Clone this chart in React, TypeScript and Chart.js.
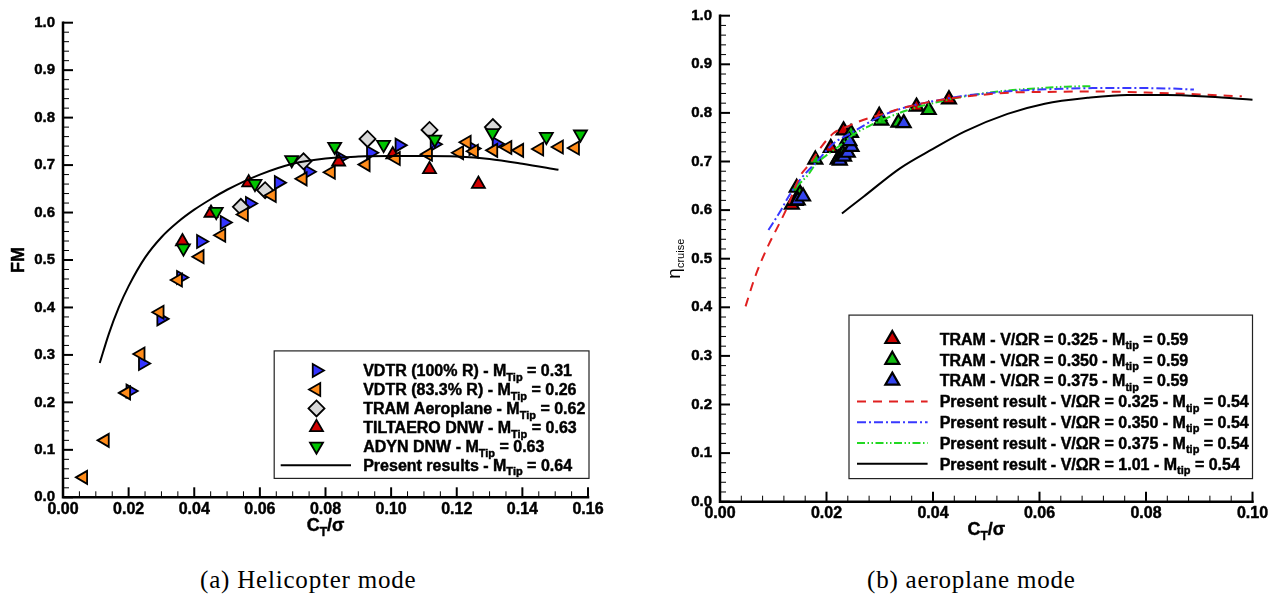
import { useEffect, useRef } from 'react';
import { Chart, registerables } from 'chart.js';
import { drawPoint } from 'chart.js/helpers';

Chart.register(...registerables);

const SANS = '"Liberation Sans", Arial, Helvetica, sans-serif';
Chart.defaults.font.family = SANS;
Chart.defaults.color = '#000';

// ---------- (a) Helicopter mode : FM vs CT/sigma ----------
const vdtr100Ct = [0.0205, 0.0243, 0.0299, 0.0359, 0.042, 0.0492, 0.0569, 0.0657, 0.0748, 0.0845, 0.0938, 0.1025, 0.1132, 0.125, 0.1321];
const vdtr100Fm = [0.224, 0.282, 0.376, 0.463, 0.539, 0.579, 0.619, 0.663, 0.686, 0.715, 0.726, 0.742, 0.744, 0.735, 0.745];

const vdtr83Ct = [0.0062, 0.0128, 0.0193, 0.0237, 0.0295, 0.0351, 0.0417, 0.0483, 0.0552, 0.0637, 0.0731, 0.0817, 0.0923, 0.1015, 0.1113, 0.1208, 0.1231, 0.1253, 0.1312, 0.1355, 0.1391, 0.1452, 0.1512, 0.1561];
const vdtr83Fm = [0.042, 0.12, 0.22, 0.302, 0.39, 0.458, 0.507, 0.552, 0.596, 0.636, 0.671, 0.685, 0.701, 0.714, 0.723, 0.726, 0.748, 0.729, 0.731, 0.737, 0.731, 0.734, 0.738, 0.736];

const tramHeliCt = [0.0542, 0.0616, 0.0733, 0.0928, 0.1117, 0.131];
const tramHeliFm = [0.612, 0.647, 0.708, 0.755, 0.774, 0.78];

const tiltaeroCt = [0.0364, 0.0451, 0.0566, 0.084, 0.1005, 0.1117, 0.1266];
const tiltaeroFm = [0.539, 0.599, 0.663, 0.707, 0.722, 0.691, 0.66];

const adynCt = [0.0367, 0.0467, 0.0585, 0.0697, 0.0828, 0.0977, 0.1133, 0.1309, 0.1473, 0.1577];
const adynFm = [0.525, 0.602, 0.661, 0.711, 0.739, 0.743, 0.754, 0.768, 0.76, 0.765];

const heliPresentCt = [0.0112, 0.014, 0.017, 0.02, 0.025, 0.03, 0.035, 0.04, 0.045, 0.05, 0.06, 0.07, 0.08, 0.09, 0.1, 0.11, 0.12, 0.13, 0.14, 0.151];
const heliPresentFm = [0.283, 0.345, 0.4, 0.445, 0.505, 0.548, 0.58, 0.606, 0.628, 0.648, 0.68, 0.703, 0.714, 0.718, 0.719, 0.719, 0.718, 0.713, 0.703, 0.69];

// ---------- (b) Aeroplane mode : eta_cruise vs CT/sigma ----------
const tram325Ct = [0.0135, 0.0142, 0.0208, 0.0221, 0.0227, 0.0232, 0.0299, 0.0369, 0.043];
const tram325Eta = [0.611, 0.619, 0.728, 0.704, 0.712, 0.764, 0.794, 0.813, 0.828];

const tram350Ct = [0.0144, 0.015, 0.0179, 0.0223, 0.0231, 0.0239, 0.0246, 0.0303, 0.0335, 0.0392];
const tram350Eta = [0.646, 0.633, 0.704, 0.707, 0.716, 0.745, 0.759, 0.784, 0.78, 0.806];

const tram375Ct = [0.0146, 0.0156, 0.0225, 0.0233, 0.024, 0.0247, 0.0243, 0.0345];
const tram375Eta = [0.62, 0.628, 0.702, 0.71, 0.718, 0.73, 0.742, 0.779];

const pres325Ct = [0.0048, 0.0066, 0.0091, 0.011, 0.0128, 0.015, 0.0169, 0.0188, 0.0213, 0.0235, 0.026, 0.03, 0.035, 0.04, 0.045, 0.05, 0.055, 0.06, 0.07, 0.08, 0.09, 0.098];
const pres325Eta = [0.402, 0.463, 0.528, 0.569, 0.61, 0.669, 0.696, 0.727, 0.758, 0.77, 0.782, 0.796, 0.812, 0.824, 0.832, 0.838, 0.842, 0.843, 0.844, 0.842, 0.838, 0.834];

const pres350Ct = [0.0091, 0.0113, 0.013, 0.015, 0.0182, 0.0213, 0.0247, 0.03, 0.035, 0.04, 0.045, 0.05, 0.055, 0.06, 0.065, 0.07, 0.075, 0.08, 0.085, 0.089];
const pres350Eta = [0.559, 0.597, 0.63, 0.662, 0.7, 0.737, 0.759, 0.792, 0.812, 0.824, 0.834, 0.84, 0.845, 0.848, 0.85, 0.851, 0.851, 0.851, 0.85, 0.848];

const pres375Ct = [0.0143, 0.0165, 0.018, 0.02, 0.0225, 0.025, 0.028, 0.031, 0.035, 0.04, 0.045, 0.05, 0.055, 0.06, 0.065, 0.07];
const pres375Eta = [0.648, 0.672, 0.695, 0.713, 0.733, 0.755, 0.773, 0.788, 0.805, 0.82, 0.832, 0.841, 0.847, 0.851, 0.854, 0.855];

const pres101Ct = [0.0229, 0.027, 0.0338, 0.04, 0.046, 0.054, 0.061, 0.069, 0.0765, 0.084, 0.092, 0.1];
const pres101Eta = [0.593, 0.628, 0.686, 0.726, 0.762, 0.798, 0.819, 0.831, 0.837, 0.837, 0.833, 0.827];

// ---------- axes ----------
const heliX = { min: 0, max: 0.16, step: 0.02, minor: 0.005, digits: 2 };
const heliY = { min: 0, max: 1, step: 0.1, minor: 0.02, digits: 1 };
const aeroX = { min: 0, max: 0.1, step: 0.02, minor: 0.004, digits: 2 };
const aeroY = { min: 0, max: 1, step: 0.1, minor: 0.02, digits: 1 };

// ---------- texts ----------
const heliLegend = [
  ['VDTR (100% R) - M', 'Tip', ' = 0.31'],
  ['VDTR (83.3% R) - M', 'Tip', ' = 0.26'],
  ['TRAM Aeroplane - M', 'Tip', ' = 0.62'],
  ['TILTAERO DNW - M', 'Tip', ' = 0.63'],
  ['ADYN DNW - M', 'Tip', ' = 0.63'],
  ['Present results - M', 'Tip', ' = 0.64'],
];
const aeroLegend = [
  ['TRAM - V/\u03A9R = 0.325 - M', 'tip', ' = 0.59'],
  ['TRAM - V/\u03A9R = 0.350 - M', 'tip', ' = 0.59'],
  ['TRAM - V/\u03A9R = 0.375 - M', 'tip', ' = 0.59'],
  ['Present result - V/\u03A9R = 0.325 - M', 'tip', ' = 0.54'],
  ['Present result - V/\u03A9R = 0.350 - M', 'tip', ' = 0.54'],
  ['Present result - V/\u03A9R = 0.375 - M', 'tip', ' = 0.54'],
  ['Present result - V/\u03A9R = 1.01 - M', 'tip', ' = 0.54'],
];
const xTitle = ['C', 'T', '/\u03C3'];
const heliYTitle = ['FM'];
const aeroYTitle = ['\u03B7', 'cruise'];
const captionA = '(a) Helicopter mode';
const captionB = '(b) aeroplane mode';

const xy = (xs: number[], ys: number[]) => xs.map((x, i) => ({ x, y: ys[i] }));

function markers(xs: number[], ys: number[], color: string, style: string, rotation: number, radius: number, bw: number, legendIndex: number, legendParts: string[], order: number) {
  return {
    data: xy(xs, ys), showLine: false, pointStyle: style, pointRotation: rotation, pointRadius: radius,
    pointBackgroundColor: color, pointBorderColor: '#000', pointBorderWidth: bw,
    backgroundColor: color, borderColor: '#000', borderWidth: bw, clip: false, order, legendIndex, legendParts,
  };
}
function curve(xs: number[], ys: number[], color: string, dash: number[], legendIndex: number, legendParts: string[], order: number) {
  return {
    data: xy(xs, ys), showLine: true, pointRadius: 0, borderColor: color, backgroundColor: color, borderWidth: 2,
    borderDash: dash, cubicInterpolationMode: 'monotone', fill: false, clip: false, order, legendIndex, legendParts,
  };
}

// text with a hair-line outline so that it reads as heavy as the reference
function heavyText(ctx: CanvasRenderingContext2D, s: string, x: number, y: number, weight: string) {
  ctx.fillText(s, x, y);
  if (weight === 'bold') {
    ctx.save();
    ctx.lineWidth = 0.45;
    ctx.strokeStyle = ctx.fillStyle as string;
    ctx.strokeText(s, x, y);
    ctx.restore();
  }
}

function drawRich(ctx: CanvasRenderingContext2D, parts: string[], x: number, y: number, size: number, subSize: number, subDy: number, weight: string, align: string) {
  const fonts = parts.map((_, i) => `${weight} ${i % 2 ? subSize : size}px ${SANS}`);
  const widths = parts.map((p, i) => { ctx.font = fonts[i]; return ctx.measureText(p).width; });
  const total = widths.reduce((a, b) => a + b, 0);
  let cx = align === 'center' ? x - total / 2 : x;
  ctx.textAlign = 'left';
  ctx.textBaseline = 'alphabetic';
  parts.forEach((p, i) => {
    ctx.font = fonts[i];
    heavyText(ctx, p, cx, y + (i % 2 ? subDy : 0), weight);
    cx += widths[i];
  });
}

function makeDecor(cfg: any) {
  return {
    id: 'decor',
    afterDraw(chart: any) {
      const ctx: CanvasRenderingContext2D = chart.ctx;
      const { left, right, top, bottom } = chart.chartArea;
      const xs = chart.scales.x, ys = chart.scales.y;
      ctx.save();
      ctx.strokeStyle = '#000';
      ctx.fillStyle = '#000';
      // inward ticks
      const nx = Math.round((xs.max - xs.min) / cfg.x.minor);
      for (let i = 0; i <= nx; i++) {
        const v = xs.min + i * cfg.x.minor;
        const r = v / cfg.x.step;
        const major = Math.abs(r - Math.round(r)) < 1e-6;
        const px = xs.getPixelForValue(v);
        ctx.lineWidth = major ? 2 : 1;
        ctx.beginPath(); ctx.moveTo(px, bottom); ctx.lineTo(px, bottom - (major ? 10 : 6)); ctx.stroke();
      }
      const ny = Math.round((ys.max - ys.min) / cfg.y.minor);
      for (let i = 0; i <= ny; i++) {
        const v = ys.min + i * cfg.y.minor;
        const r = v / cfg.y.step;
        const major = Math.abs(r - Math.round(r)) < 1e-6;
        const py = ys.getPixelForValue(v);
        ctx.lineWidth = major ? 2 : 1;
        ctx.beginPath(); ctx.moveTo(left, py); ctx.lineTo(left + (major ? 10 : 6), py); ctx.stroke();
      }
      // axis lines
      ctx.lineWidth = 2.5;
      ctx.lineCap = 'square';
      ctx.beginPath(); ctx.moveTo(left, top); ctx.lineTo(left, bottom); ctx.lineTo(right, bottom); ctx.stroke();
      ctx.lineCap = 'butt';
      // tick labels (bold), taken from the scale's own ticks
      ctx.fillStyle = '#000';
      ctx.font = `bold 16px ${SANS}`;
      ctx.textAlign = 'center';
      ctx.textBaseline = 'top';
      xs.ticks.forEach((t: any) => {
        heavyText(ctx, Number(t.value).toFixed(cfg.x.digits), xs.getPixelForValue(t.value), bottom + 4, 'bold');
      });
      ctx.font = `bold 15px ${SANS}`;
      ctx.textAlign = 'right';
      ctx.textBaseline = 'middle';
      ys.ticks.forEach((t: any) => {
        heavyText(ctx, Number(t.value).toFixed(cfg.y.digits), left - 8, ys.getPixelForValue(t.value), 'bold');
      });
      // axis titles
      drawRich(ctx, xTitle, (left + right) / 2, cfg.xTitleY, 18, 12, 5, 'bold', 'center');
      ctx.save();
      ctx.translate(cfg.yTitleX, (top + bottom) / 2);
      ctx.rotate(-Math.PI / 2);
      drawRich(ctx, cfg.yTitle, 0, 0, cfg.yTitleSize, 11, 4, cfg.yTitleWeight, 'center');
      ctx.restore();
      // legend
      const lg = cfg.legend;
      ctx.fillStyle = '#fff';
      ctx.fillRect(lg.x, lg.y, lg.w, lg.h);
      ctx.strokeStyle = '#222';
      ctx.lineWidth = 1.2;
      ctx.strokeRect(lg.x, lg.y, lg.w, lg.h);
      chart.data.datasets.forEach((ds: any) => {
        const cy = lg.row0 + ds.legendIndex * lg.rowStep;
        if (ds.showLine) {
          ctx.save();
          ctx.strokeStyle = ds.borderColor;
          ctx.lineWidth = ds.borderWidth;
          ctx.setLineDash(ds.borderDash || []);
          ctx.beginPath(); ctx.moveTo(lg.lineX0, cy); ctx.lineTo(lg.lineX1, cy); ctx.stroke();
          ctx.restore();
        } else {
          ctx.save();
          ctx.fillStyle = ds.pointBackgroundColor;
          ctx.strokeStyle = ds.pointBorderColor;
          ctx.lineWidth = ds.pointBorderWidth;
          drawPoint(ctx, { pointStyle: ds.pointStyle, rotation: ds.pointRotation, radius: ds.pointRadius, borderWidth: ds.pointBorderWidth } as any, lg.symX, cy);
          ctx.restore();
        }
        ctx.fillStyle = '#000';
        drawRich(ctx, ds.legendParts, lg.textX, cy + 5.7, 16, 11, 4.5, 'bold', 'left');
      });
      ctx.restore();
    },
  };
}

function axisOptions(ax: any, pos: string, size: number) {
  return {
    type: 'linear', position: pos, min: ax.min, max: ax.max,
    grid: { display: false, drawTicks: false },
    border: { display: false },
    ticks: {
      stepSize: ax.step, padding: 0, color: 'rgba(0,0,0,0)',
      font: { family: SANS, size: 15, weight: 'bold' },
      callback: (v: number) => Number(v).toFixed(ax.digits),
    },
    afterFit: (s: any) => { if (pos === 'left') s.width = size; else s.height = size; },
  };
}

function buildConfig(datasets: any[], x: any, y: any, layout: any, decor: any) {
  return {
    type: 'scatter',
    data: { datasets },
    options: {
      responsive: false, animation: false, events: [], devicePixelRatio: 1,
      layout: { padding: layout.padding },
      plugins: { legend: { display: false }, tooltip: { enabled: false } },
      scales: {
        x: axisOptions(x, 'bottom', layout.xH),
        y: axisOptions(y, 'left', layout.yW),
      },
    },
    plugins: [makeDecor(decor)],
  };
}

const CANVAS_H = 545;

export default function App() {
  const leftRef = useRef<HTMLCanvasElement>(null);
  const rightRef = useRef<HTMLCanvasElement>(null);

  useEffect(() => {
    const heliSets = [
      curve(heliPresentCt, heliPresentFm, '#000', [], 5, heliLegend[5], 0),
      markers(vdtr83Ct, vdtr83Fm, '#ff8c1a', 'triangle', 270, 7.5, 1.8, 1, heliLegend[1], 1),
      markers(adynCt, adynFm, '#00c400', 'triangle', 180, 7.5, 1.8, 4, heliLegend[4], 2),
      markers(tiltaeroCt, tiltaeroFm, '#d00000', 'triangle', 0, 7.5, 1.8, 3, heliLegend[3], 3),
      markers(tramHeliCt, tramHeliFm, '#d8d8d8', 'rectRot', 0, 8, 1.8, 2, heliLegend[2], 4),
      markers(vdtr100Ct, vdtr100Fm, '#3333ff', 'triangle', 90, 7.5, 1.8, 0, heliLegend[0], 5),
    ];
    const aeroSets = [
      curve(pres101Ct, pres101Eta, '#000', [], 6, aeroLegend[6], 0),
      curve(pres325Ct, pres325Eta, '#e02020', [9, 7], 3, aeroLegend[3], 1),
      curve(pres350Ct, pres350Eta, '#3838ff', [9, 3, 2, 3], 4, aeroLegend[4], 2),
      curve(pres375Ct, pres375Eta, '#22d822', [8, 2.5, 1.5, 2.5, 1.5, 2.5], 5, aeroLegend[5], 3),
      markers(tram375Ct, tram375Eta, '#3344ee', 'triangle', 0, 8, 2.2, 2, aeroLegend[2], 4),
      markers(tram350Ct, tram350Eta, '#11bb11', 'triangle', 0, 8, 2.2, 1, aeroLegend[1], 5),
      markers(tram325Ct, tram325Eta, '#cc0000', 'triangle', 0, 8, 2.2, 0, aeroLegend[0], 6),
    ];

    const left = new Chart(leftRef.current as any, buildConfig(heliSets, heliX, heliY,
      { padding: { left: 0, top: 22.7, right: 52, bottom: 0 }, xH: CANVAS_H - 497.3, yW: 63 },
      {
        x: heliX, y: heliY, xTitleY: 531, yTitleX: 23.5, yTitle: heliYTitle, yTitleSize: 18, yTitleWeight: 'bold',
        legend: { x: 274.2, y: 350.9, w: 314.8, h: 127.5, row0: 370.5, rowStep: 18.95, symX: 316.5, lineX0: 280.7, lineX1: 351, textX: 363.2 },
      }) as any);

    const right = new Chart(rightRef.current as any, buildConfig(aeroSets, aeroX, aeroY,
      { padding: { left: 0, top: 15.7, right: 24.5, bottom: 0 }, xH: CANVAS_H - 501.7, yW: 80 },
      {
        x: aeroX, y: aeroY, xTitleY: 535, yTitleX: 40, yTitle: aeroYTitle, yTitleSize: 19, yTitleWeight: 'normal',
        legend: { x: 209, y: 315.1, w: 403.5, h: 163.5, row0: 339.0, rowStep: 20.8, symX: 252.3, lineX0: 217, lineX1: 287.6, textX: 299.7 },
      }) as any);

    return () => { left.destroy(); right.destroy(); };
  }, []);

  const caption = {
    position: 'absolute' as const, top: 566, fontFamily: '"Liberation Serif", "DejaVu Serif", serif',
    fontSize: 25, lineHeight: '28px', letterSpacing: '0.8px', color: '#000', whiteSpace: 'nowrap' as const,
  };

  return (
    <div style={{ position: 'fixed', left: 0, top: 0, width: 1277, height: 604, background: '#fff', overflow: 'hidden' }}>
      <canvas ref={leftRef} width={640} height={CANVAS_H} style={{ position: 'absolute', left: 0, top: 0 }} />
      <canvas ref={rightRef} width={637} height={CANVAS_H} style={{ position: 'absolute', left: 640, top: 0 }} />
      <div style={{ ...caption, left: 200 }}>{captionA}</div>
      <div style={{ ...caption, left: 867 }}>{captionB}</div>
    </div>
  );
}
